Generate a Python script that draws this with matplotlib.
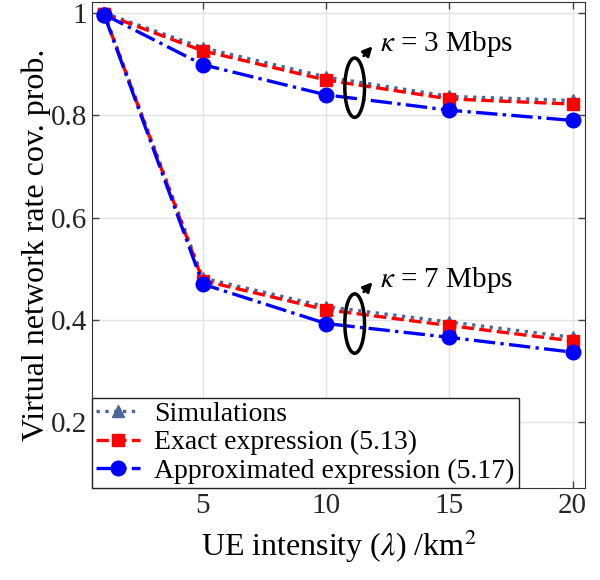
import matplotlib
matplotlib.use("Agg")
import matplotlib.pyplot as plt
from matplotlib.patches import Ellipse

plt.rcParams['font.family'] = ['Liberation Serif', 'DejaVu Serif']
plt.rcParams['mathtext.fontset'] = 'stix'

# UE intensity (per km^2)
ue_intensity = [1, 5, 10, 15, 20]

# kappa = 3 Mbps
sim_k3 = [1.0, 0.932, 0.875, 0.837, 0.829]
exact_k3 = [0.998, 0.926, 0.869, 0.832, 0.822]
approx_k3 = [0.997, 0.899, 0.840, 0.810, 0.790]

# kappa = 7 Mbps
sim_k7 = [1.0, 0.482, 0.426, 0.396, 0.366]
exact_k7 = [0.998, 0.477, 0.420, 0.389, 0.359]
approx_k7 = [0.997, 0.470, 0.393, 0.366, 0.337]

yticks = [0.2, 0.4, 0.6, 0.8, 1.0]
ytick_labels = ['0.2', '0.4', '0.6', '0.8', '1']
xticks = [5, 10, 15, 20]

sim_color = '#4d6699'

fig = plt.figure(figsize=(6, 5.8), dpi=100)
ax = fig.add_axes([0.153, 0.159, 0.822, 0.838])

for sim, exact, approx, lab in [(sim_k3, exact_k3, approx_k3, True),
                                (sim_k7, exact_k7, approx_k7, False)]:
    ax.plot(ue_intensity, sim, linestyle=':', color=sim_color, lw=2.4,
            marker='^', ms=9, label='Simulations' if lab else None)
    ax.plot(ue_intensity, exact, linestyle='--', color='red', lw=2.4,
            marker='s', ms=8, label='Exact expression (5.13)' if lab else None)
    ax.plot(ue_intensity, approx, linestyle='-.', color='blue', lw=2.4,
            marker='o', ms=10.5, label='Approximated expression (5.17)' if lab else None)

ax.set_xlim(0.5, 20.5)
ax.set_ylim(0.072, 1.022)
ax.set_xticks(xticks)
ax.set_yticks(yticks)
ax.set_yticklabels(ytick_labels)
ax.tick_params(direction='in', labelsize=21, top=True, right=True,
               length=5, width=1, color='#444444', labelcolor='#262626')
ax.grid(True, color='#e3e3e3', lw=1)
ax.set_axisbelow(True)
for s in ax.spines.values():
    s.set_color('#333333')

ax.set_xlabel(r'UE intensity ($\lambda$) /km$^2$', fontsize=23, labelpad=6)
ax.set_ylabel('Virtual network rate cov. prob.', fontsize=23, labelpad=0)

# ellipse annotations
for yc, ytxt, txt in [(0.854, 0.939, r'$\kappa$ = 3 Mbps'),
                      (0.393, 0.478, r'$\kappa$ = 7 Mbps')]:
    ax.add_patch(Ellipse((11.16, yc), 0.8, 0.116, fill=False, ec='black', lw=2.5, zorder=5))
    ax.annotate('', xy=(11.96, yc + 0.085), xytext=(11.45, yc + 0.058),
                arrowprops=dict(arrowstyle='-|>', color='black', lw=2,
                                mutation_scale=14))
    ax.text(12.2, ytxt, txt, fontsize=21, va='center', ha='left')

leg = ax.legend(loc='lower left', fontsize=20, frameon=True, fancybox=False,
                borderaxespad=0, handlelength=1.6, handletextpad=0.5,
                borderpad=0.15, labelspacing=0.1)
leg.get_frame().set_edgecolor('#222222')
leg.get_frame().set_linewidth(1)
leg.get_frame().set_alpha(1)

fig.savefig('out.png', dpi=100)
